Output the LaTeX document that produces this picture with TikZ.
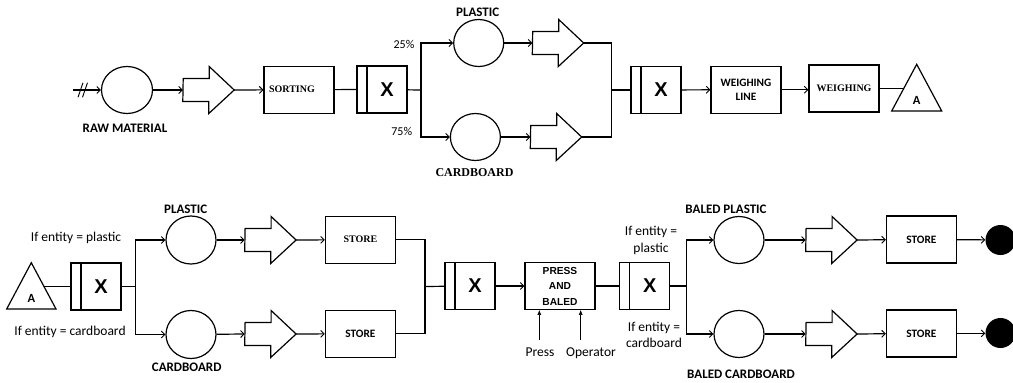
\documentclass[tikz,border=0pt]{standalone}
\usepackage{fontspec}
\usetikzlibrary{arrows.meta,shapes.geometric,calc}
\newfontfamily\calfont{Carlito}
\newfontfamily\serfont{Liberation Serif}
\newfontfamily\arfont{Liberation Sans}
\tikzset{
  ln/.style={line width=1.2pt},
  arr/.style={line width=1.2pt,-{Straight Barb[length=3.5pt,width=7pt,line width=0.9pt]}},
  thinarr/.style={line width=0.6pt,-{Latex[length=5pt,width=4pt]}},
  circ/.style={ellipse,draw,line width=1.2pt,minimum width=50pt,minimum height=47pt,inner sep=0pt},
  endc/.style={circle,fill=black,minimum size=30pt,inner sep=0pt},
  serbox/.style={draw,line width=1.2pt,minimum width=70pt,minimum height=47pt,inner sep=0pt,align=center,
    font=\serfont\bfseries\fontsize{10}{14.4}\selectfont},
  sanbox/.style={draw,line width=1.2pt,minimum width=70pt,minimum height=47pt,inner sep=0pt,align=center,
    font=\calfont\bfseries\fontsize{11.3}{14.4}\selectfont},
  pressbox/.style={draw,line width=1.2pt,minimum width=70pt,minimum height=46.6pt,inner sep=0pt,align=center,
    font=\arfont\bfseries\fontsize{10.2}{15.5}\selectfont},
  xbox/.style={draw,line width=1.2pt,minimum width=50pt,minimum height=47pt,inner sep=0pt,
    font=\arfont\bfseries\fontsize{20}{20}\selectfont,
    path picture={\draw[line width=1.2pt] ([xshift=10pt]path picture bounding box.north west) -- ([xshift=10pt]path picture bounding box.south west);}},
  blk/.style={inner sep=0pt,minimum width=51pt,minimum height=47pt},
  lbl/.style={font=\calfont\bfseries\fontsize{13}{15}\selectfont,inner sep=0pt},
  serlbl/.style={font=\serfont\bfseries\fontsize{12}{14}\selectfont,inner sep=0pt},
  txt/.style={font=\calfont\fontsize{13.5}{16.7}\selectfont,inner sep=0pt,align=center},
  pct/.style={font=\calfont\fontsize{12}{14}\selectfont,inner sep=0pt},
  albl/.style={font=\calfont\bfseries\fontsize{12.5}{14}\selectfont,inner sep=0pt}
}
% block arrow: name, x of centre, y
\newcommand\blockarrow[3]{%
  \node[blk] (#1) at (#2,#3) {};
  \draw[line width=1.2pt,line join=miter] (#1.west) ++(0,11.5) -- ++(26,0) -- ++(0,12) -- (#1.east)
    -- ++(-25,-23.5) -- ++(0,12) -- ++(-26,0) -- cycle;
}
\begin{document}
\begin{tikzpicture}[x=1pt,y=-1pt]
\useasboundingbox (0,0) rectangle (1013,383);

% ---------------- top row ----------------
\coordinate (start) at (73,90);
\draw[line width=0.9pt] (78,97.3) -- (83,82.7);
\draw[line width=0.9pt] (82.5,97.3) -- (87.5,82.7);
\node[circ,minimum width=51pt] (raw) at (127,90) {};
\node[lbl] (rawl) at (125,128) {RAW MATERIAL};
\blockarrow{ba1}{208.5}{90}
\node[serbox] (sort) at (299,89.7) {SORTING\hspace*{14pt}};
\node[xbox] (x1) at (382,89.5) {\hspace*{10pt}X};
\coordinate (j1) at (421,90);
\node[circ] (c1) at (478.7,43) {};
\node[circ] (c2) at (475.4,137) {};
\node[lbl] (pl1) at (477.7,12) {PLASTIC};
\node[serlbl] (cb1) at (474.5,172.3) {CARDBOARD};
\node[pct] (p25) at (404,44) {25\%};
\node[pct] (p75) at (401.7,131) {75\%};
\blockarrow{ba2}{558}{43}
\blockarrow{ba3}{556}{137}
\coordinate (j2) at (611.7,90);
\node[xbox] (x2) at (656,90) {\hspace*{10pt}X};
\node[sanbox] (wl) at (746,89.7) {WEIGHING\\LINE};
\node[serbox] (wg) at (844,88.5) {WEIGHING};
\draw[line width=1.2pt,line join=miter] (891.7,111) -- (916.7,64.3) -- (941.7,111) -- cycle;
\coordinate (A1in) at (903.7,88.5);
\node[albl] (A1) at (916.7,100.5) {A};

\draw[arr] (start) -- (raw.west);
\draw[arr] (raw) -- (ba1.west);
\draw[arr] (ba1.east) -- (sort);
\draw[ln] (sort) -- (x1);
\draw[ln] (x1) -- (j1);
\draw[arr] (j1) |- (c1);
\draw[arr] (j1) |- (c2);
\draw[arr] (c1) -- (ba2.west);
\draw[arr] (c2) -- (ba3.west);
\draw[ln] (ba2.east) -| (j2);
\draw[ln] (ba3.east) -| (j2);
\draw[ln] (j2) -- (x2);
\draw[arr] (x2) -- (wl);
\draw[arr] (wl.east) -- (wl.east -| wg.west);
\draw[ln] (wg.east) -- (A1in);

% ---------------- bottom row ----------------
\draw[line width=1.2pt,line join=miter] (6.7,309) -- (31.3,262.7) -- (56,309) -- cycle;
\node[albl] (A2) at (31.3,298.5) {A};
\coordinate (A2in) at (44.1,286.5);
\node[xbox] (x3) at (96,286.5) {\hspace*{10pt}X};
\coordinate (j3) at (135.7,286.5);
\node[txt] (if1) at (76,237.7) {If entity = plastic};
\node[txt] (if2) at (70,331.7) {If entity = cardboard};
\node[circ,minimum height=48pt] (c3) at (191,240) {};
\node[circ,minimum height=48pt] (c4) at (191,334.5) {};
\node[lbl] (pl2) at (185.7,209) {PLASTIC};
\node[lbl] (cb2) at (186.7,367.7) {CARDBOARD};
\blockarrow{ba4}{270.4}{240}
\blockarrow{ba5}{270.4}{334}
\node[serbox] (st1) at (360.4,239.7) {STORE};
\node[sanbox] (st2) at (360.4,333.7) {STORE};
\coordinate (j4) at (425,286.5);
\node[xbox] (x4) at (470,286) {\hspace*{10pt}X};
\node[pressbox] (pb) at (560,286) {PRESS\\AND\\BALED};
\coordinate (pr) at (539.3,340);
\coordinate (op) at (580.7,340);
\node[txt] (prl) at (540,352.3) {Press};
\node[txt] (opl) at (591,353.3) {Operator};
\node[xbox] (x5) at (644.7,286) {\hspace*{10pt}X};
\node[txt] (if3) at (651,240.5) {If entity =\\plastic};
\node[txt] (if4) at (654,335) {If entity =\\cardboard};
\coordinate (j5) at (686.7,286);
\node[circ] (c5) at (739,240) {};
\node[circ] (c6) at (739,334) {};
\node[lbl] (bp) at (726,209) {BALED PLASTIC};
\node[lbl] (bc) at (741,374.3) {BALED CARDBOARD};
\blockarrow{ba6}{831.4}{240}
\blockarrow{ba7}{831.4}{334}
\node[sanbox] (st3) at (921.4,239.4) {STORE};
\node[sanbox] (st4) at (921.4,333.4) {STORE};
\node[endc] (e1) at (1000.5,240) {};
\node[endc] (e2) at (1000.5,333) {};

\draw[ln] (A2in) -- (x3);
\draw[ln] (x3) -- (j3);
\draw[arr] (j3) |- (c3);
\draw[arr] (j3) |- (c4);
\draw[arr] (c3) -- (ba4.west);
\draw[arr] (c4) -- (ba5.west);
\draw[arr] (ba4.east) -- (st1);
\draw[arr] (ba5.east) -- (st2);
\draw[ln] (st1) -| (j4);
\draw[ln] (st2) -| (j4);
\draw[ln] (j4) -- (x4);
\draw[arr] (x4) -- (pb);
\draw[thinarr] (pr) -- (pr |- pb.south);
\draw[thinarr] (op) -- (op |- pb.south);
\draw[ln] (pb) -- (x5);
\draw[ln] (x5) -- (j5);
\draw[arr] (j5) |- (c5);
\draw[arr] (j5) |- (c6);
\draw[arr] (c5) -- (ba6.west);
\draw[arr] (c6) -- (ba7.west);
\draw[arr] (ba6.east) -- (st3);
\draw[arr] (ba7.east) -- (st4);
\draw[arr] (st3) -- (e1);
\draw[arr] (st4.east) -- (st4.east -| e2.west);
\end{tikzpicture}
\end{document}
